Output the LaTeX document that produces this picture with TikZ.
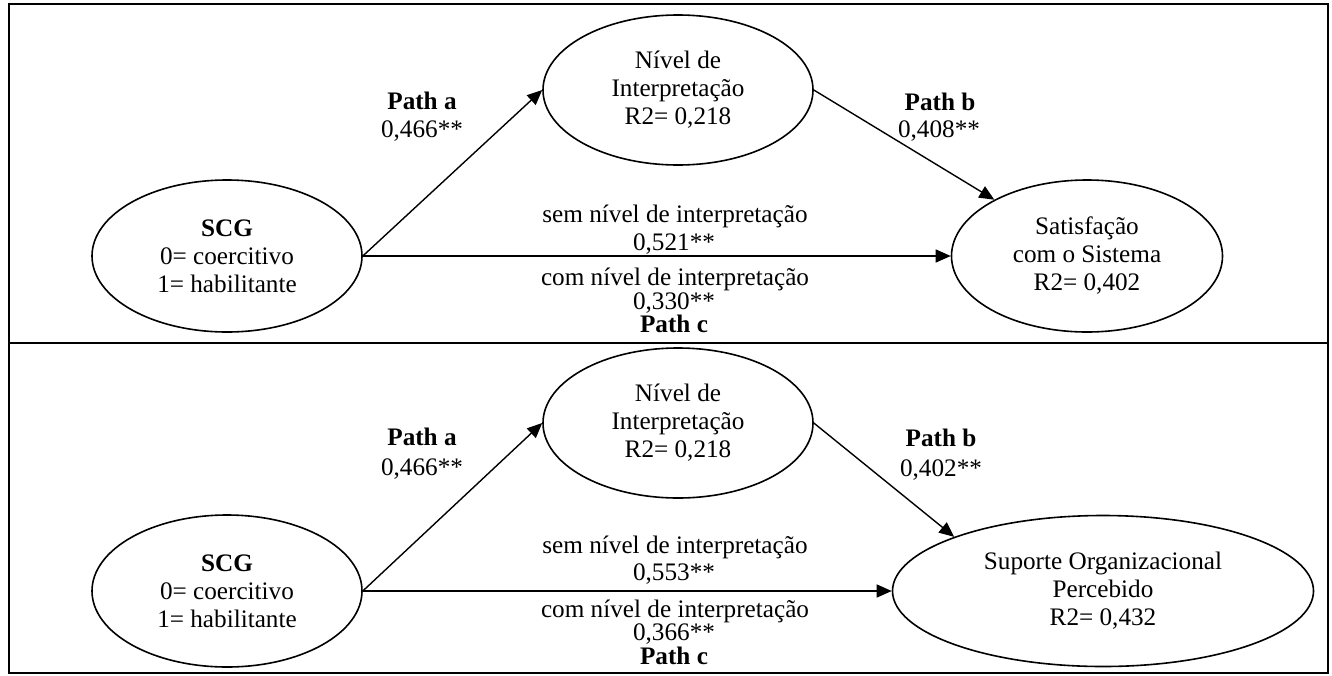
\documentclass[tikz,border=0pt]{standalone}
\usepackage{fontspec}
\setmainfont{Liberation Serif}
\usetikzlibrary{shapes.geometric,arrows.meta}
\begin{document}
\begin{tikzpicture}[x=0.5pt,y=-0.5pt,
  font=\fontsize{12.6}{14}\selectfont,
  var/.style={ellipse,draw,line width=0.8pt,inner sep=0pt,align=center},
  lab/.style={anchor=base,inner sep=0pt},
  blab/.style={lab,font=\fontsize{12.6}{14}\selectfont\bfseries},
  conn/.style={line width=0.7pt,-{Triangle[length=7.5pt,width=6.5pt]}},
  frame/.style={line width=1pt}]
\useasboundingbox (0,0) rectangle (1332,675);

% frame
\draw[frame] (9,4) rectangle (1328,673);
\draw[frame] (9,343) -- (1328,343);

% ---------- top panel ----------
\node[var,minimum width=135pt,minimum height=76pt] (scg1) at (227,256) {\textbf{SCG}\\0= coercitivo\\1= habilitante};
\node[var,minimum width=135pt,minimum height=75pt] (niv1) at (678,90) {Nível de\\Interpretação\\R2= 0,218};
\node[var,minimum width=135.5pt,minimum height=76pt] (sat1) at (1087,256) {Satisfação\\com o Sistema\\R2= 0,402};

\draw[conn] (scg1.east) -- (niv1.west);
\draw[conn] (scg1.east) -- (sat1.west);
\draw[conn] (niv1.east) -- (sat1);

\node[blab] (pa1) at (422,109) {Path a};
\node[lab] (va1) at (422,137) {0,466**};
\node[blab] (pb1) at (940,110) {Path b};
\node[lab] (vb1) at (939,137) {0,408**};
\node[lab] (sem1) at (675,222) {sem nível de interpretação};
\node[lab] (vs1) at (674,250) {0,521**};
\node[lab] (com1) at (675,285) {com nível de interpretação};
\node[lab] (vc1) at (674,309) {0,330**};
\node[blab] (pc1) at (674,332) {Path c};

% ---------- bottom panel ----------
\node[var,minimum width=135pt,minimum height=76pt] (scg2) at (227,591) {\textbf{SCG}\\0= coercitivo\\1= habilitante};
\node[var,minimum width=135pt,minimum height=75pt] (niv2) at (678,423) {Nível de\\Interpretação\\R2= 0,218};
\node[var,minimum width=210.5pt,minimum height=75.5pt] (sup2) at (1103,591) {Suporte Organizacional\\Percebido\\R2= 0,432};

\draw[conn] (scg2.east) -- (niv2.west);
\draw[conn] (scg2.east) -- (sup2.west);
\draw[conn] (niv2.east) -- (sup2.160);

\node[blab] (pa2) at (422,445) {Path a};
\node[lab] (va2) at (422,475) {0,466**};
\node[blab] (pb2) at (941,446) {Path b};
\node[lab] (vb2) at (941,476) {0,402**};
\node[lab] (sem2) at (675,553) {sem nível de interpretação};
\node[lab] (vs2) at (674,580) {0,553**};
\node[lab] (com2) at (675,617) {com nível de interpretação};
\node[lab] (vc2) at (674,640) {0,366**};
\node[blab] (pc2) at (674,664) {Path c};
\end{tikzpicture}
\end{document}
